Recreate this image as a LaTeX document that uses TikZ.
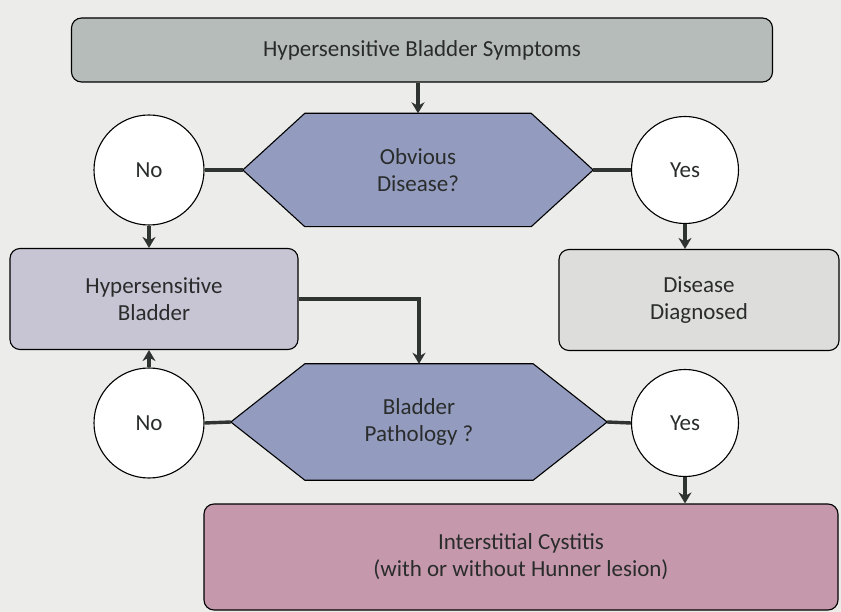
\documentclass[tikz,border=0pt]{standalone}
\usepackage{fontspec}
\setmainfont{Carlito}
\usetikzlibrary{arrows.meta,calc}
\definecolor{bg}{HTML}{ECECEA}
\definecolor{topc}{HTML}{B6BCB9}
\definecolor{hexc}{HTML}{939CBF}
\definecolor{hbc}{HTML}{C7C4D4}
\definecolor{ddc}{HTML}{DDDDDC}
\definecolor{icc}{HTML}{C598AC}
\definecolor{txt}{HTML}{2A2C2C}
\definecolor{lnc}{HTML}{2F3332}
\begin{document}
\begin{tikzpicture}[x=1pt,y=-1pt,
  font=\fontsize{23}{27}\selectfont,
  box/.style={draw=black, line width=1.1pt, rounded corners=10pt, align=center, text=txt, inner sep=0pt},
  ans/.style={circle, draw=black, line width=1.1pt, fill=white, inner sep=0pt, text=txt},
  hexbox/.style={inner sep=0pt, align=center, text=txt},
  hexfill/.style={draw=black, line width=1.1pt, fill=hexc},
  conn/.style={draw=lnc, line width=3.4pt},
  arr/.style={conn, -{Stealth[length=11pt,width=13pt,inset=3.5pt]}}]
\fill[bg] (0,0) rectangle (841,612);
\useasboundingbox (0,0) rectangle (841,612);

% top box
\node[box, fill=topc, minimum width=701pt, minimum height=64pt] (top) at (422,50) {Hypersensitive Bladder Symptoms};

% hexagon 1
\node[hexbox, minimum width=226pt, minimum height=113pt] (h1) at (418,170) {};
\coordinate (h1l) at ($(h1.west)+(-62,0)$);
\coordinate (h1r) at ($(h1.east)+(62,0)$);
\path[hexfill] (h1.north west) -- (h1.north east) -- (h1r) -- (h1.south east) -- (h1.south west) -- (h1l) -- cycle;
\node[hexbox] (h1t) at (h1) {Obvious\\Disease?};

% circles row 1
\node[ans, minimum size=110pt] (no1) at (149,170) {No};
\node[ans, minimum size=107pt] (yes1) at (685,170) {Yes};

% middle boxes
\node[box, fill=hbc, minimum width=288pt, minimum height=101pt] (hb) at (154,299) {Hypersensitive\\Bladder};
\node[box, fill=ddc, minimum width=280pt, minimum height=101pt] (dd) at (699,300) {Disease\\Diagnosed};

% hexagon 2
\node[hexbox, minimum width=228pt, minimum height=116pt] (h2) at (419,422) {};
\coordinate (h2l) at ($(h2.west)+(-74,0)$);
\coordinate (h2r) at ($(h2.east)+(74,0)$);
\path[hexfill] (h2.north west) -- (h2.north east) -- (h2r) -- (h2.south east) -- (h2.south west) -- (h2l) -- cycle;
\node[hexbox] (h2t) at (h2) {Bladder\\Pathology ?};

% circles row 2
\node[ans, minimum size=110pt] (no2) at (149,423) {No};
\node[ans, minimum size=107pt] (yes2) at (685,423) {Yes};

% bottom box
\node[box, fill=icc, minimum width=634pt, minimum height=106pt] (ic) at (521,557) {Interstitial Cystitis\\(with or without Hunner lesion)};

% connectors
\draw[arr] (top.south -| h1.north) -- (h1.north);
\draw[conn] (no1.east) -- (h1l);
\draw[conn] (h1r) -- (yes1.west);
\draw[arr] (no1.south) -- (no1.south |- hb.north);
\draw[arr] (yes1.south) -- (yes1.south |- dd.north);
\draw[arr] (hb.east) -| (h2.north);
\draw[conn] (no2.east) -- (h2l);
\draw[conn] (h2r) -- (yes2.west);
\draw[arr] (no2.north) -- (no2.north |- hb.south);
\draw[arr] (yes2.south) -- (yes2.south |- ic.north);
\end{tikzpicture}
\end{document}
